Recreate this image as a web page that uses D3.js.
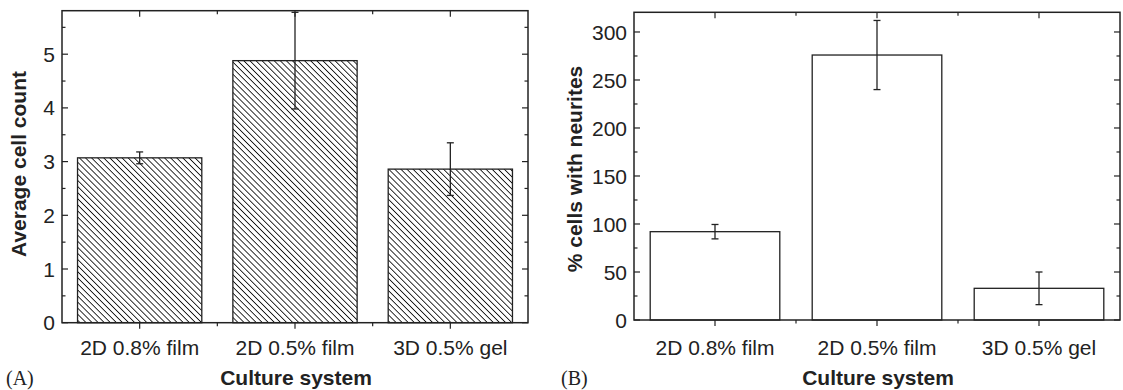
<!DOCTYPE html>
<html>
<head>
<meta charset="utf-8">
<script src="https://cdn.jsdelivr.net/npm/d3@7"></script>
<style>
  html, body { margin: 0; padding: 0; background: #fff; }
  svg { display: block; }
  text { font-family: "Liberation Sans", Arial, Helvetica, sans-serif; fill: #222; }
</style>
</head>
<body>
<svg id="chart" width="1123" height="390"></svg>
<script>
// ---- data ----
const categories = ["2D 0.8% film", "2D 0.5% film", "3D 0.5% gel"];
const cellCount = [3.07, 4.88, 2.86];
const cellCountErr = [0.11, 0.9, 0.49];
const neurites = [92, 276, 33];
const neuritesErr = [7.5, 36, 17];
const cellCountTicks = [0, 1, 2, 3, 4, 5];
const neuritesTicks = [0, 50, 100, 150, 200, 250, 300];
const xTitle = "Culture system";
const yTitleA = "Average cell count";
const yTitleB = "% cells with neurites";
const panelLabels = ["(A)", "(B)"];

const svg = d3.select("#chart");
const ink = "#222";

// hatch pattern
const defs = svg.append("defs");
const pat = defs.append("pattern")
  .attr("id", "hatch")
  .attr("patternUnits", "userSpaceOnUse")
  .attr("width", 4.3).attr("height", 4.3)
  .attr("patternTransform", "rotate(-45)");
pat.append("rect").attr("width", 4.3).attr("height", 4.3).attr("fill", "#fff");
pat.append("line").attr("x1", 0).attr("y1", 0).attr("x2", 0).attr("y2", 4.3)
  .attr("stroke", "#000").attr("stroke-width", 1.6);

function drawPanel(p) {
  const g = svg.append("g");
  const x = d3.scaleBand().domain(categories).range([p.left, p.right]).paddingInner(0.2).paddingOuter(0.1);
  const xb = d3.scaleBand().domain(categories).range([p.left, p.right]);
  const y = d3.scaleLinear().domain([0, p.ymax]).range([p.bottom, p.top]);

  // bars
  g.selectAll("rect.bar").data(p.values).enter().append("rect")
    .attr("class", "bar")
    .attr("x", (d, i) => x(categories[i]))
    .attr("width", x.bandwidth())
    .attr("y", d => y(d))
    .attr("height", d => y(0) - y(d))
    .attr("fill", p.hatch ? "url(#hatch)" : "#fff")
    .attr("stroke", ink).attr("stroke-width", 1.3);

  // error bars
  const cx = (i) => xb(categories[i]) + xb.bandwidth() / 2;
  const eg = g.append("g").attr("stroke", ink).attr("stroke-width", 1.3);
  p.values.forEach((v, i) => {
    const hi = Math.min(v + p.errs[i], p.ymax);
    const lo = v - p.errs[i];
    eg.append("line").attr("x1", cx(i)).attr("x2", cx(i)).attr("y1", y(hi)).attr("y2", y(lo));
    eg.append("line").attr("x1", cx(i) - 3.5).attr("x2", cx(i) + 3.5).attr("y1", y(hi)).attr("y2", y(hi));
    eg.append("line").attr("x1", cx(i) - 3.5).attr("x2", cx(i) + 3.5).attr("y1", y(lo)).attr("y2", y(lo));
  });

  // frame
  g.append("rect").attr("x", p.left).attr("y", p.top)
    .attr("width", p.right - p.left).attr("height", p.bottom - p.top)
    .attr("fill", "none").attr("stroke", ink).attr("stroke-width", 1.5);

  // y ticks (major and minor), inward on left and right
  const tg = g.append("g").attr("stroke", ink).attr("stroke-width", 1.2);
  const step = p.ticks[1] - p.ticks[0];
  const minor = [];
  for (let v = step / 2; v <= p.ymax; v += step) minor.push(v);
  p.ticks.forEach(t => {
    tg.append("line").attr("x1", p.left).attr("x2", p.left + 6).attr("y1", y(t)).attr("y2", y(t));
    tg.append("line").attr("x1", p.right).attr("x2", p.right - 6).attr("y1", y(t)).attr("y2", y(t));
  });
  minor.forEach(t => {
    tg.append("line").attr("x1", p.left).attr("x2", p.left + 3.5).attr("y1", y(t)).attr("y2", y(t));
    tg.append("line").attr("x1", p.right).attr("x2", p.right - 3.5).attr("y1", y(t)).attr("y2", y(t));
  });
  // x ticks: major at band centers, minor at band boundaries
  categories.forEach((c, i) => {
    tg.append("line").attr("x1", cx(i)).attr("x2", cx(i)).attr("y1", p.bottom).attr("y2", p.bottom + 6);
    tg.append("line").attr("x1", cx(i)).attr("x2", cx(i)).attr("y1", p.top).attr("y2", p.top + 6);
    if (i > 0) {
      const bx = xb(c);
      tg.append("line").attr("x1", bx).attr("x2", bx).attr("y1", p.bottom).attr("y2", p.bottom + 3.5);
      tg.append("line").attr("x1", bx).attr("x2", bx).attr("y1", p.top).attr("y2", p.top + 3.5);
    }
  });

  // y tick labels
  g.selectAll("text.ytl").data(p.ticks).enter().append("text")
    .attr("x", p.left - 7).attr("y", d => y(d)).attr("dy", "0.36em")
    .attr("text-anchor", "end").style("font-size", "21px").text(d => d);

  // x tick labels
  g.selectAll("text.xtl").data(categories).enter().append("text")
    .attr("x", (d, i) => cx(i)).attr("y", 355)
    .attr("text-anchor", "middle").style("font-size", "21px").text(d => d);

  // axis titles
  g.append("text").attr("x", (p.left + p.right) / 2 + 1).attr("y", 385)
    .attr("text-anchor", "middle").style("font-size", "21px").style("font-weight", "bold").text(xTitle);
  g.append("text").attr("transform", `translate(${p.ytx},${p.yty}) rotate(-90)`)
    .attr("text-anchor", "middle").style("font-size", "21px").style("font-weight", "bold").text(p.ytitle);

  // panel label
  g.append("text").attr("x", p.lx).attr("y", 385)
    .style("font-family", "'Liberation Serif', 'Times New Roman', serif")
    .style("font-size", "20px").text(p.label);
}

drawPanel({
  left: 62, right: 528, top: 10.7, bottom: 322.7, ymax: 5.81,
  values: cellCount, errs: cellCountErr, ticks: cellCountTicks, hatch: true,
  ytitle: yTitleA, ytx: 26, yty: 164, label: panelLabels[0], lx: 6
});
drawPanel({
  left: 634, right: 1120, top: 12.3, bottom: 320, ymax: 320.5,
  values: neurites, errs: neuritesErr, ticks: neuritesTicks, hatch: false,
  ytitle: yTitleB, ytx: 582, yty: 169, label: panelLabels[1], lx: 561
});
</script>
</body>
</html>
